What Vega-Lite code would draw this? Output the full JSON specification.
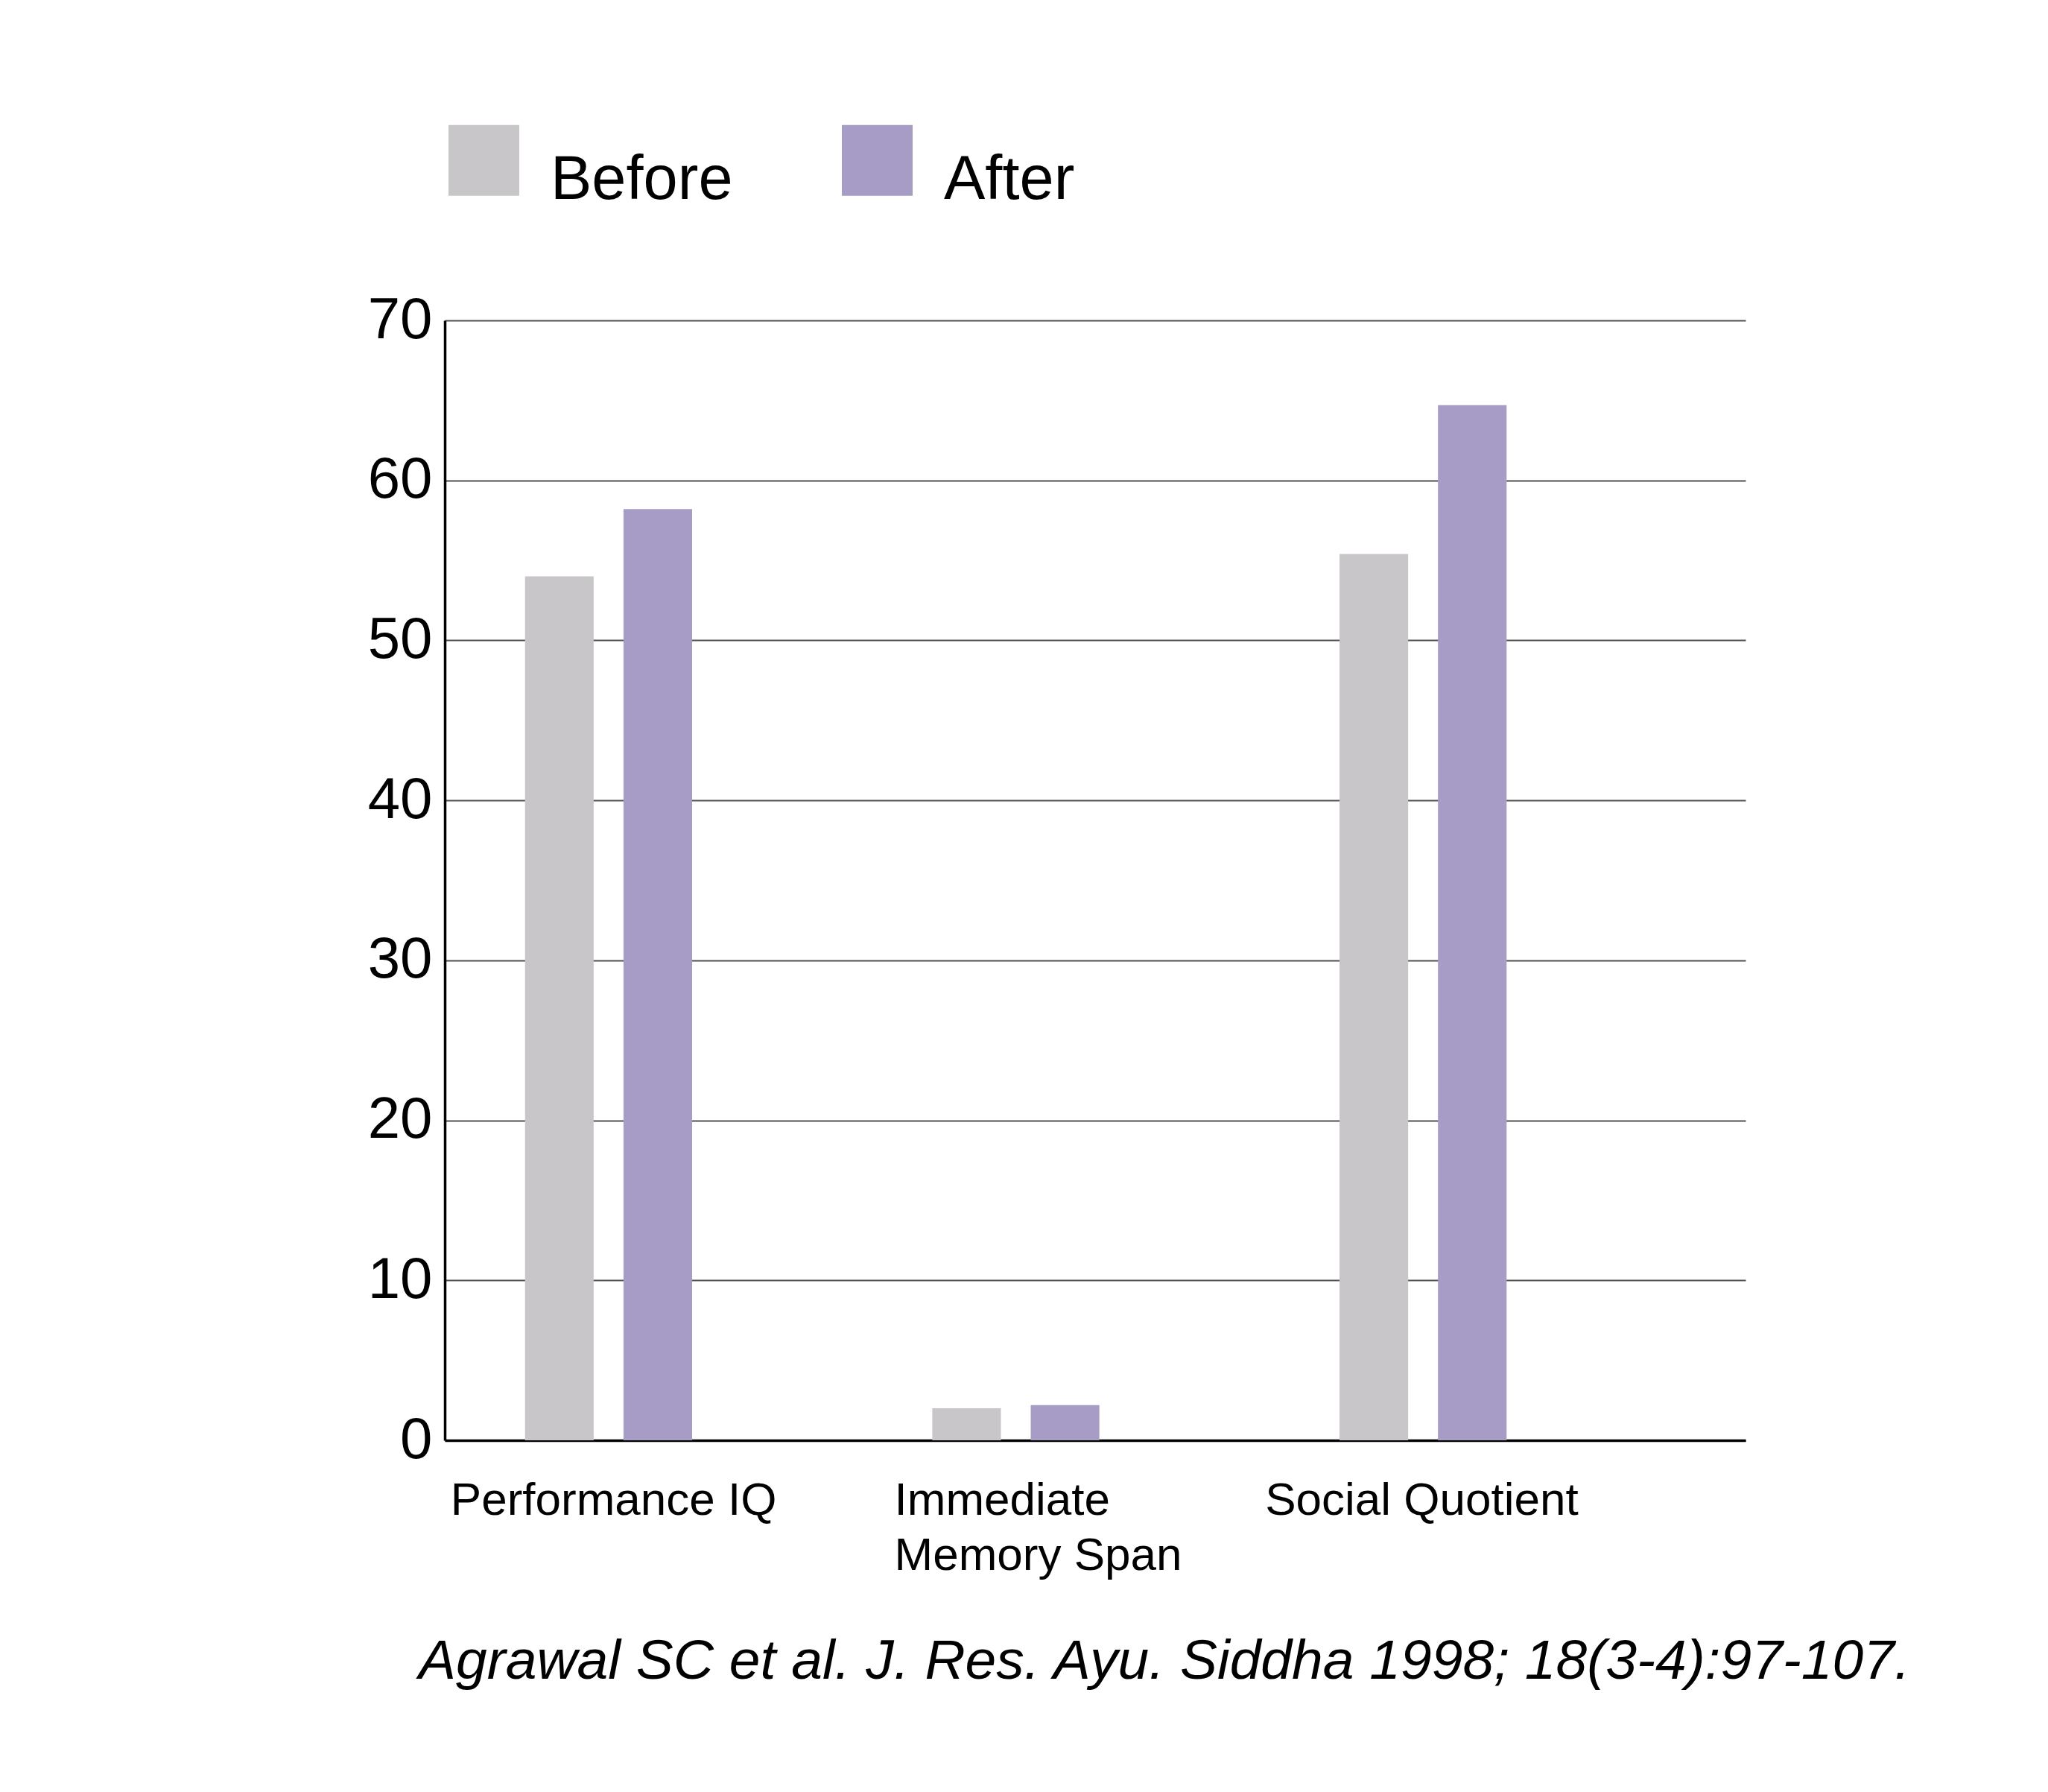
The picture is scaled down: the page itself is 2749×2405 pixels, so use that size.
{
  "$schema": "https://vega.github.io/schema/vega-lite/v6.json",
  "autosize": {"type": "none"},
  "width": 1746,
  "height": 1503,
  "padding": {"left": 597, "top": 430, "right": 406, "bottom": 472},
  "background": "white",
  "config": {
    "view": {"stroke": null},
    "font": "Liberation Sans"
  },
  "title": {
    "text": "Agrawal SC et al. J. Res. Ayu. Siddha 1998; 18(3-4):97-107.",
    "orient": "bottom",
    "anchor": "start",
    "frame": "group",
    "dx": -35,
    "offset": 76,
    "baseline": "top",
    "font": "Liberation Sans",
    "fontSize": 75,
    "fontStyle": "italic",
    "fontWeight": "normal",
    "color": "black"
  },
  "data": {
    "values": [
      {"measure": "Performance IQ", "time": "Before", "score": 54.0},
      {"measure": "Performance IQ", "time": "After", "score": 58.2},
      {"measure": "Immediate Memory Span", "time": "Before", "score": 2.0},
      {"measure": "Immediate Memory Span", "time": "After", "score": 2.2},
      {"measure": "Social Quotient", "time": "Before", "score": 55.4},
      {"measure": "Social Quotient", "time": "After", "score": 64.7}
    ]
  },
  "mark": {"type": "bar"},
  "encoding": {
    "x": {
      "field": "measure",
      "type": "nominal",
      "sort": ["Performance IQ", "Immediate Memory Span", "Social Quotient"],
      "scale": {"paddingInner": 0.524, "paddingOuter": 0.359, "align": 0.2287},
      "axis": {
        "title": null,
        "domainColor": "black",
        "domainWidth": 3.5,
        "ticks": false,
        "tickSize": 0,
        "labelAngle": 0,
        "labelAlign": "left",
        "labelBaseline": "top",
        "labelPadding": 50,
        "labelFontSize": 62,
        "labelColor": "black",
        "labelLineHeight": 74,
        "labelLimit": 1000,
        "labelOffset": {"condition": {"test": "datum.value === 'Immediate Memory Span'", "value": -163}, "value": -212},
        "labelExpr": "datum.value === 'Immediate Memory Span' ? ['Immediate', 'Memory Span'] : datum.value"
      }
    },
    "xOffset": {
      "field": "time",
      "type": "nominal",
      "sort": ["Before", "After"],
      "scale": {"paddingInner": 0.303, "paddingOuter": 0.136}
    },
    "y": {
      "field": "score",
      "type": "quantitative",
      "scale": {"domain": [0, 70], "nice": false},
      "axis": {
        "title": null,
        "values": [0, 10, 20, 30, 40, 50, 60, 70],
        "domainColor": "black",
        "domainWidth": 3.5,
        "ticks": false,
        "tickSize": 0,
        "grid": true,
        "gridColor": "#505050",
        "gridWidth": 2,
        "labelFontSize": 78,
        "labelColor": "black",
        "labelPadding": 17,
        "labelBaseline": "middle"
      }
    },
    "color": {
      "field": "time",
      "type": "nominal",
      "sort": ["Before", "After"],
      "scale": {"domain": ["Before", "After"], "range": ["#c8c6c8", "#a69cc6"]},
      "legend": {
        "title": null,
        "orient": "none",
        "legendX": 5,
        "legendY": -236,
        "direction": "horizontal",
        "padding": 0,
        "symbolType": "M-1,-1.56H1V0.44H-1Z",
        "symbolSize": 9025,
        "symbolStrokeWidth": 0,
        "symbolOpacity": 1,
        "labelFontSize": 83,
        "labelColor": "black",
        "labelOffset": 42,
        "labelBaseline": "middle",
        "labelLimit": 1000,
        "columnPadding": 146
      }
    }
  }
}
